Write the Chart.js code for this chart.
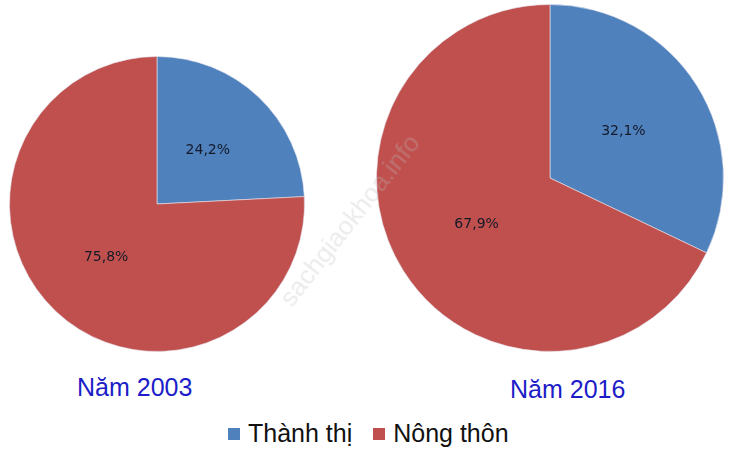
<!DOCTYPE html>
<html>
<head>
<meta charset="utf-8">
<script src="https://cdn.jsdelivr.net/npm/chart.js@4/dist/chart.umd.min.js"></script>
<style>
  body { margin: 0; width: 737px; height: 451px; background: #fff; position: relative; overflow: hidden; font-family: "Liberation Sans", Arial, sans-serif; }
  .pie { position: absolute; }
  .year { position: absolute; font-size: 25px; color: #1c1cc8; white-space: nowrap; }
  .legend { position: absolute; top: 419px; left: 228px; font-size: 25px; color: #111; white-space: nowrap; }
  .legend span.box { display: inline-block; width: 12px; height: 12px; margin-right: 8px; vertical-align: 2px; }
  .legend span.item { margin-right: 14px; }
  .mark { position: absolute; left: 245px; top: 205px; font-size: 26px; color: rgba(190,190,190,0.3); transform: rotate(-52deg); white-space: nowrap; pointer-events: none; }
</style>
</head>
<body>
<div class="pie" style="left:9px; top:56px; width:296px; height:296px;"><canvas id="pie2003"></canvas></div>
<div class="pie" style="left:376px; top:4px; width:348px; height:348px;"><canvas id="pie2016"></canvas></div>
<div class="year" style="left:77px; top:373px;">Năm 2003</div>
<div class="year" style="left:510px; top:375px;">Năm 2016</div>
<div class="legend">
  <span class="item"><span class="box" style="background:#4f81bd"></span>Thành thị</span>
  <span class="item"><span class="box" style="background:#c0504d"></span>Nông thôn</span>
</div>
<div class="mark">sachgiaokhoa.info</div>
<script>
const categories = ['Thành thị', 'Nông thôn'];
const values2003 = [24.2, 75.8];
const values2016 = [32.1, 67.9];
const colors = ['#4f81bd', '#c0504d'];

// vẽ nhãn phần trăm ở giữa mỗi lát
const sliceLabels = {
  id: 'sliceLabels',
  afterDatasetsDraw(chart) {
    const ctx = chart.ctx;
    const meta = chart.getDatasetMeta(0);
    const data = chart.data.datasets[0].data;
    ctx.save();
    ctx.font = '14px "DejaVu Sans", sans-serif';
    ctx.fillStyle = '#141a2a';
    ctx.textAlign = 'center';
    ctx.textBaseline = 'middle';
    meta.data.forEach((arc, i) => {
      const mid = (arc.startAngle + arc.endAngle) / 2;
      const r = arc.outerRadius * 0.5;
      const x = arc.x + Math.cos(mid) * r;
      const y = arc.y + Math.sin(mid) * r;
      ctx.fillText(data[i].toFixed(1).replace('.', ',') + '%', x, y);
    });
    ctx.restore();
  }
};

function makePie(id, values) {
  return new Chart(document.getElementById(id), {
    type: 'pie',
    data: {
      labels: categories,
      datasets: [{
        data: values,
        backgroundColor: colors,
        borderColor: 'rgba(230,230,240,0.6)',
        borderWidth: 1
      }]
    },
    options: {
      responsive: true,
      maintainAspectRatio: false,
      animation: false,
      layout: { padding: 0 },
      plugins: { legend: { display: false }, tooltip: { enabled: false } }
    },
    plugins: [sliceLabels]
  });
}

makePie('pie2003', values2003);
makePie('pie2016', values2016);
</script>
</body>
</html>
